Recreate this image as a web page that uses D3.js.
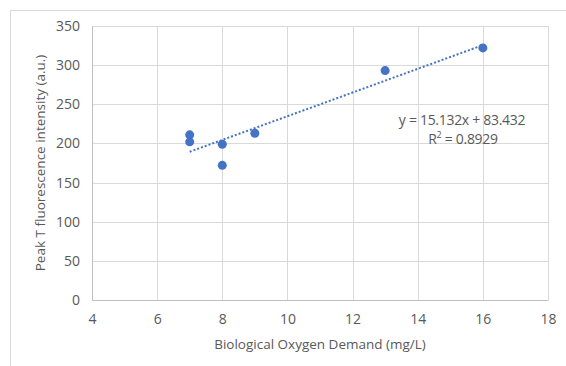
<!DOCTYPE html>
<html>
<head>
<meta charset="utf-8">
<script src="https://cdn.jsdelivr.net/npm/d3@7"></script>
<style>
  body { margin: 0; background: #fff; }
  svg text { font-family: "Open Sans", "Noto Sans", sans-serif; fill: #595959; }
</style>
</head>
<body>
<div id="chart"></div>
<script>
// BOD (mg/L) vs peak T intensity
const bod = [7, 7, 8, 8, 9, 13, 16];
const peakT = [211, 202, 199, 172, 213, 293, 322];
const xTicks = [4, 6, 8, 10, 12, 14, 16, 18];
const yTicks = [0, 50, 100, 150, 200, 250, 300, 350];
const slope = 15.132;
const intercept = 83.432;
const rSquared = 0.8929;

const W = 566, H = 366;
const margin = { top: 26, right: 18, bottom: 66, left: 92 };
const width = W - margin.left - margin.right;
const height = H - margin.top - margin.bottom;

const svg = d3.select('#chart')
  .append('svg')
  .attr('width', W)
  .attr('height', H);

// chart border
svg.append('rect')
  .attr('x', 10.5).attr('y', 10.5)
  .attr('width', 570).attr('height', 370)
  .attr('fill', 'none')
  .attr('stroke', '#d9d9d9');

const g = svg.append('g')
  .attr('transform', `translate(${margin.left},${margin.top})`);

const x = d3.scaleLinear().domain([4, 18]).range([0, width]);
const y = d3.scaleLinear().domain([0, 350]).range([height, 0]);

// gridlines
g.append('g')
  .selectAll('line')
  .data(yTicks)
  .enter()
  .append('line')
  .attr('x1', 0)
  .attr('x2', width)
  .attr('y1', d => Math.round(y(d)) + 0.5)
  .attr('y2', d => Math.round(y(d)) + 0.5)
  .attr('stroke', '#d9d9d9');

g.append('g')
  .selectAll('line')
  .data(xTicks)
  .enter()
  .append('line')
  .attr('x1', d => Math.round(x(d)) + 0.5)
  .attr('x2', d => Math.round(x(d)) + 0.5)
  .attr('y1', 0)
  .attr('y2', height)
  .attr('stroke', '#d9d9d9');

// axes (labels only)
const xAxis = g.append('g')
  .attr('transform', `translate(0,${height})`)
  .call(d3.axisBottom(x).tickValues(xTicks).tickSize(0).tickPadding(14));
xAxis.select('.domain').attr('stroke', '#bfbfbf');
xAxis.selectAll('text').style('font-size', '14px').attr('fill', '#595959');

const yAxis = g.append('g')
  .call(d3.axisLeft(y).tickValues(yTicks).tickSize(0).tickPadding(12));
yAxis.select('.domain').attr('stroke', '#bfbfbf');
yAxis.selectAll('text').style('font-size', '14px').attr('fill', '#595959');

// axis titles
svg.append('text')
  .attr('x', margin.left + width / 2)
  .attr('y', 349)
  .attr('text-anchor', 'middle')
  .style('font-size', '13.5px')
  .text('Biological Oxygen Demand (mg/L)');

svg.append('text')
  .attr('transform', `translate(45,${margin.top + height / 2}) rotate(-90)`)
  .attr('text-anchor', 'middle')
  .style('font-size', '13.5px')
  .text('Peak T fluorescence intensity (a.u.)');

// linear trendline over the data range
const xExt = d3.extent(bod);
g.append('line')
  .attr('x1', x(xExt[0]))
  .attr('y1', y(slope * xExt[0] + intercept))
  .attr('x2', x(xExt[1]))
  .attr('y2', y(slope * xExt[1] + intercept))
  .attr('stroke', '#4472c4')
  .attr('stroke-width', 2)
  .attr('stroke-dasharray', '2,2');

// points
g.append('g')
  .selectAll('circle')
  .data(bod.map((d, i) => [d, peakT[i]]))
  .enter()
  .append('circle')
  .attr('cx', d => x(d[0]))
  .attr('cy', d => y(d[1]))
  .attr('r', 4.5)
  .attr('fill', '#4472c4');

// equation label
svg.append('text')
  .attr('x', 462)
  .attr('y', 125)
  .attr('text-anchor', 'middle')
  .style('font-size', '14px')
  .style('letter-spacing', '-0.3px')
  .text(`y = ${slope}x + ${intercept}`);

const r2 = svg.append('text')
  .attr('x', 463)
  .attr('y', 144)
  .attr('text-anchor', 'middle')
  .style('font-size', '14px')
  .style('letter-spacing', '-0.3px');
r2.append('tspan').text('R');
r2.append('tspan').attr('dy', -6).style('font-size', '9px').text('2');
r2.append('tspan').attr('dy', 6).text(` = ${rSquared}`);
</script>
</body>
</html>
